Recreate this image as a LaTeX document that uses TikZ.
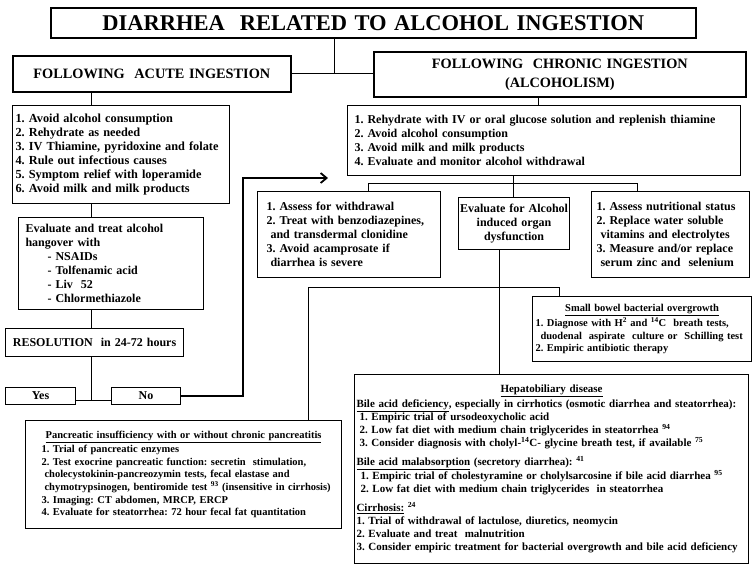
\documentclass[tikz,border=0pt]{standalone}
\usepackage{fontspec}
\setmainfont{Liberation Serif}
\usetikzlibrary{arrows.meta}
\newcommand\mkbox[8]{%
  \pgfmathsetmacro\mybw{#4-#2}%
  \pgfmathsetmacro\mybh{#5-#3}%
  \pgfmathsetmacro\mytw{#4-#2-2*#6}%
  \node[bx,inner xsep=#6pt,minimum width=\mybw pt,minimum height=\mybh pt,text width=\mytw pt,#7] (#1) at (#2,#3) {#8};}
\newcommand\pind{\hspace*{13pt}}
\tikzset{
  bx/.style={draw, line width=1.1pt, anchor=north west, inner ysep=1pt,
    font=\fontsize{12}{14}\selectfont\bfseries},
  hdr/.style={line width=1.7pt, align=center},
  lst/.style={align=left},
  ctr/.style={align=center},
  fT/.style={font=\fontsize{22.5}{24}\selectfont\bfseries},
  fH/.style={font=\fontsize{14.3}{19}\selectfont\bfseries},
  fA/.style={font=\fontsize{12.3}{14}\selectfont\bfseries},
  fS/.style={font=\fontsize{10.5}{12.5}\selectfont\bfseries},
  fP/.style={font=\fontsize{10.5}{12.6}\selectfont\bfseries},
  fB/.style={font=\fontsize{11}{13}\selectfont\bfseries},
  conn/.style={line width=0.9pt},
  arr/.style={line width=2.3pt, line join=miter,
    -{Straight Barb[length=6pt,width=10pt,line width=1.8pt]}},
}
\begin{document}
\frenchspacing
\hyphenpenalty=10000
\exhyphenpenalty=10000
\begin{tikzpicture}[x=1pt,y=-1pt]
\fill[white] (0,0) rectangle (754,566);
\useasboundingbox (0,0) rectangle (754,566);

% headers
\mkbox{title}{50}{7}{695}{37}{4}{hdr,ctr,fT}{DIARRHEA\ \ RELATED TO ALCOHOL INGESTION}
\mkbox{acute}{12}{55}{290}{91}{4}{hdr,ctr,fH}{FOLLOWING\ \ ACUTE INGESTION}
\mkbox{chronic}{373}{51}{745}{96}{4}{hdr,ctr,fH}{FOLLOWING\ \ CHRONIC INGESTION\\(ALCOHOLISM)}

% acute branch
\mkbox{alist}{12}{105}{229}{203}{3}{lst,fA}{1. Avoid alcohol consumption\\2. Rehydrate as needed\\3. IV Thiamine, pyridoxine and folate\\4. Rule out infectious causes\\5. Symptom relief with loperamide\\6. Avoid milk and milk products}
\mkbox{hang}{18}{217}{203}{309}{7}{lst}{Evaluate and treat alcohol\\hangover with\\\hspace*{22pt}- NSAIDs\\\hspace*{22pt}- Tolfenamic acid\\\hspace*{22pt}- Liv\ \ 52\\\hspace*{22pt}- Chlormethiazole}
\mkbox{res}{5}{328}{183}{356}{3}{ctr}{RESOLUTION\ \ in 24-72 hours}
\mkbox{yes}{5}{387}{75}{404}{2}{ctr,inner ysep=0pt}{Yes}
\mkbox{no}{111}{387}{180}{404}{2}{ctr,inner ysep=0pt}{No}

% chronic branch
\mkbox{clist}{347}{105}{740}{175}{7}{lst}{1. Rehydrate with IV or oral glucose solution and replenish thiamine\\2. Avoid alcohol consumption\\3. Avoid milk and milk products\\4. Evaluate and monitor alcohol withdrawal}
\mkbox{wd}{257}{191}{440}{277}{9}{lst}{1. Assess for withdrawal\\2. Treat with benzodiazepines,\\\hspace*{4pt}and transdermal clonidine\\3. Avoid acamprosate if\\\hspace*{4pt}diarrhea is severe}
\mkbox{eval}{458}{197}{569}{249}{1}{ctr}{Evaluate for Alcohol\\induced organ\\dysfunction}
\mkbox{nut}{591}{191}{749}{277}{5}{lst}{1. Assess nutritional status\\2. Replace water soluble\\\hspace*{4pt}vitamins and electrolytes\\3. Measure and/or replace\\\hspace*{4pt}serum zinc and\ \ selenium}

% organ dysfunction boxes
\mkbox{sb}{532}{296}{751}{361}{3}{lst,fS}{\makebox[\hsize]{\underline{Small bowel bacterial overgrowth}}\\[1.5pt]1. Diagnose with H\textsuperscript{2} and \textsuperscript{14}C\ \ breath tests,\\\hspace*{5pt}duodenal\ \ aspirate\ \ culture or\ \ Schilling test\\2. Empiric antibiotic therapy}
\mkbox{panc}{25}{420}{341}{528}{3}{lst,fP}{\makebox[\hsize]{\underline{Pancreatic insufficiency with or without chronic pancreatitis}}\\[1.5pt]\pind 1. Trial of pancreatic enzymes\\\pind 2. Test exocrine pancreatic function: secretin\ \ stimulation,\\\pind\hspace*{3pt}cholecystokinin-pancreozymin tests, fecal elastase and\\\pind\hspace*{3pt}chymotrypsinogen, bentiromide test \textsuperscript{93} (insensitive in cirrhosis)\\\pind 3. Imaging: CT abdomen, MRCP, ERCP\\\pind 4. Evaluate for steatorrhea: 72 hour fecal fat quantitation}
\mkbox{hep}{354}{374}{748}{563}{2}{lst,fB}{\makebox[\hsize]{\underline{Hepatobiliary disease}}\\[2pt]\underline{Bile acid deficiency}, especially in cirrhotics (osmotic diarrhea and steatorrhea):\\\hspace*{3pt}1. Empiric trial of ursodeoxycholic acid\\\hspace*{3pt}2. Low fat diet with medium chain triglycerides in steatorrhea \textsuperscript{94}\\\hspace*{3pt}3. Consider diagnosis with cholyl-\textsuperscript{14}C- glycine breath test, if available \textsuperscript{75}\\[6pt]\underline{Bile acid malabsorption} (secretory diarrhea): \textsuperscript{41}\\\hspace*{4pt}1. Empiric trial of cholestyramine or cholylsarcosine if bile acid diarrhea \textsuperscript{95}\\\hspace*{4pt}2. Low fat diet with medium chain triglycerides\ \ in steatorrhea\\[6pt]\underline{Cirrhosis:} \textsuperscript{24}\\1. Trial of withdrawal of lactulose, diuretics, neomycin\\2. Evaluate and treat\ \ malnutrition\\3. Consider empiric treatment for bacterial overgrowth and bile acid deficiency}

% connectors
\coordinate (j0) at (334,73);
\draw[conn] (title.south -| j0) -- (j0);
\draw[conn] (acute.east |- j0) -- (chronic.west |- j0);

\coordinate (ja) at (91,0);
\draw[conn] (acute.south -| ja) -- (alist.north -| ja);
\draw[conn] (alist.south -| ja) -- (hang.north -| ja);
\draw[conn] (hang.south -| ja) -- (res.north -| ja);
\coordinate (jyn) at (91,400);
\draw[conn] (res.south -| jyn) -- (jyn);
\draw[conn] (yes.east |- jyn) -- (no.west |- jyn);

\coordinate (tk) at (243,178);
\coordinate (tip) at (328,178);
\draw[arr] (no.east) -| (tk) -- (tip);

\coordinate (jc) at (538,0);
\draw[conn] (chronic.south -| jc) -- (clist.north -| jc);
\coordinate (b1) at (513,183);
\coordinate (bl) at (368,183);
\coordinate (br) at (637,183);
\draw[conn] (clist.south -| b1) -- (eval.north -| b1);
\draw[conn] (wd.north -| bl) -- (bl) -- (br) -- (nut.north -| br);

\coordinate (e1) at (499,287);
\coordinate (h1) at (308,287);
\coordinate (h2) at (559,287);
\draw[conn] (eval.south -| e1) -- (hep.north -| e1);
\draw[conn] (panc.north -| h1) -- (h1) -- (h2) -- (sb.north -| h2);
\end{tikzpicture}
\end{document}
